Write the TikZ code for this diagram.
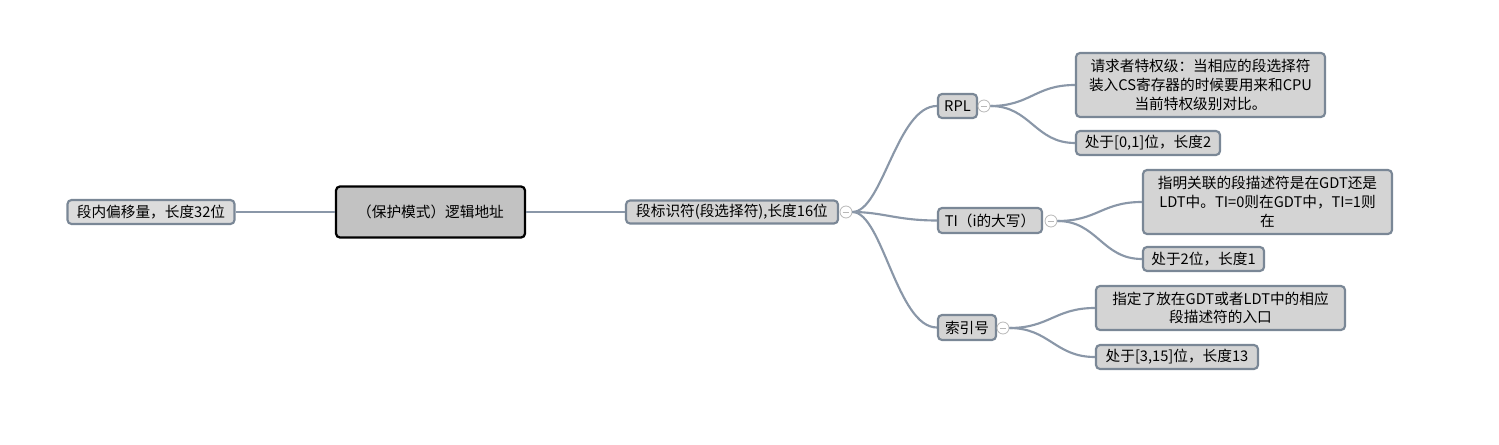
\documentclass[tikz,border=0pt]{standalone}
\usepackage{fontspec}
\setmainfont{Noto Sans CJK SC}
\definecolor{bordc}{HTML}{7A8796}
\definecolor{boxc}{HTML}{D4D4D4}
\definecolor{linec}{HTML}{8A97A8}
\definecolor{knobc}{HTML}{B8B8B8}
\definecolor{lightc}{HTML}{DCDCDC}
\definecolor{rootc}{HTML}{C2C2C2}
\begin{document}
\begin{tikzpicture}[x=0.75pt,y=-0.75pt,
  box/.style={draw=bordc, fill=boxc, line width=1.6pt, rounded corners=3pt, inner sep=0pt, font=\fontsize{11}{14}\selectfont, text=black, align=center},
  conn/.style={draw=linec, line width=1.6pt},
  knob/.style={circle, draw=knobc, fill=white, line width=0.6pt, minimum size=9pt, inner sep=0pt}
]
\useasboundingbox (0,0) rectangle (1499,445);

\node[box, fill=lightc, minimum width=167*0.75pt, minimum height=24*0.75pt] (off) at (151,212) {段内偏移量，长度32位};
\node[box, draw=black, fill=rootc, line width=1.7pt, minimum width=189*0.75pt, minimum height=51*0.75pt] (root) at (430.5,212) {（保护模式）逻辑地址};
\node[box, minimum width=212*0.75pt, minimum height=23*0.75pt] (sel) at (732,212) {段标识符(段选择符),长度16位};

\node[box, minimum width=39*0.75pt, minimum height=24*0.75pt] (rpl) at (957.5,106) {RPL};
\node[box, minimum width=104*0.75pt, minimum height=25*0.75pt] (ti) at (990,220.5) {TI（i的大写）};
\node[box, minimum width=58*0.75pt, minimum height=25*0.75pt] (idx) at (967,327.5) {索引号};

\node[box, minimum width=249*0.75pt, minimum height=64*0.75pt] (rpld) at (1200.5,85) {请求者特权级：当相应的段选择符\\装入CS寄存器的时候要用来和CPU\\当前特权级别对比。};
\node[box, minimum width=144*0.75pt, minimum height=24*0.75pt] (rplp) at (1148,143) {处于[0,1]位，长度2};
\node[box, minimum width=249*0.75pt, minimum height=64*0.75pt] (tid) at (1267.5,202) {指明关联的段描述符是在GDT还是\\LDT中。TI=0则在GDT中，TI=1则\\在};
\node[box, minimum width=121*0.75pt, minimum height=24*0.75pt] (tip) at (1203.5,259) {处于2位，长度1};
\node[box, minimum width=249*0.75pt, minimum height=44*0.75pt] (idxd) at (1220.5,308) {指定了放在GDT或者LDT中的相应\\段描述符的入口};
\node[box, minimum width=162*0.75pt, minimum height=24*0.75pt] (idxp) at (1177,357) {处于[3,15]位，长度13};

\node[knob] (k0) at (846,212) {};
\node[knob] (k1) at (984,106) {};
\node[knob] (k2) at (1051,221) {};
\node[knob] (k3) at (1003,328) {};
\foreach \k in {k0,k1,k2,k3} \draw[knobc, line width=0.6pt] ([xshift=-2.5pt]\k.center) -- ([xshift=2.5pt]\k.center);

\draw[conn] (off.east) -- (root.west);
\draw[conn] (root.east) -- (sel.west);

\draw[conn] (k0.east) .. controls +(30,0) and +(-40,0) .. (rpl.west);
\draw[conn] (k0.east) .. controls +(30,0) and +(-40,0) .. (ti.west);
\draw[conn] (k0.east) .. controls +(30,0) and +(-40,0) .. (idx.west);

\draw[conn] (k1.east) .. controls +(40,0) and +(-40,0) .. (rpld.west);
\draw[conn] (k1.east) .. controls +(40,0) and +(-40,0) .. (rplp.west);
\draw[conn] (k2.east) .. controls +(40,0) and +(-40,0) .. (tid.west);
\draw[conn] (k2.east) .. controls +(40,0) and +(-40,0) .. (tip.west);
\draw[conn] (k3.east) .. controls +(40,0) and +(-40,0) .. (idxd.west);
\draw[conn] (k3.east) .. controls +(40,0) and +(-40,0) .. (idxp.west);
\end{tikzpicture}
\end{document}
